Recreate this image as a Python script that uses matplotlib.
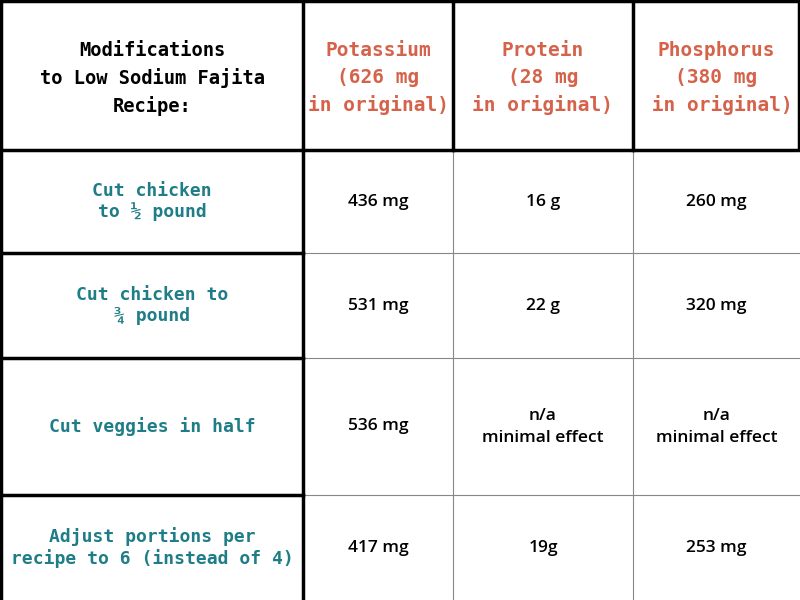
import matplotlib
matplotlib.use("Agg")
import matplotlib.pyplot as plt

corner = "Modifications\nto Low Sodium Fajita\nRecipe:"
headers = ["Potassium\n(626 mg\nin original)", "Protein\n(28 mg\nin original)", "Phosphorus\n(380 mg\n in original)"]
rows = ["Cut chicken\nto ½ pound", "Cut chicken to\n¾ pound", "Cut veggies in half", "Adjust portions per\nrecipe to 6 (instead of 4)"]
potassium = ["436 mg", "531 mg", "536 mg", "417 mg"]
protein = ["16 g", "22 g", "n/a\nminimal effect", "19g"]
phosphorus = ["260 mg", "320 mg", "n/a\nminimal effect", "253 mg"]

xs = [0, 303, 453, 633, 800]
ys = [0, 150, 253, 358, 495, 600]
RED = "#d5624a"
TEAL = "#1e7d86"

fig = plt.figure(figsize=(8, 6), dpi=100)
ax = fig.add_axes([0, 0, 1, 1])
ax.set_xlim(0, 800); ax.set_ylim(600, 0); ax.axis("off")

for x in xs[2:4]:
    ax.plot([x, x], [150, 600], color="#888888", lw=0.8)
for y in ys[2:5]:
    ax.plot([303, 800], [y, y], color="#888888", lw=0.8)
thick = dict(color="black", lw=2.5)
ax.plot([1, 799, 799, 1, 1], [1, 1, 150, 150, 1], **thick)
for x in xs[1:4]:
    ax.plot([x, x], [0, 150], **thick)
ax.plot([303, 303], [150, 600], **thick)
ax.plot([1, 1], [150, 600], **thick)
for y in ys[2:5]:
    ax.plot([0, 303], [y, y], **thick)

mono = dict(family="DejaVu Sans Mono", weight="bold")
ax.text(152, 78, corner, ha="center", va="center", fontsize=13.5, color="black", linespacing=1.5, **mono)
for i, h in enumerate(headers):
    ax.text((xs[i+1]+xs[i+2])/2, 78, h, ha="center", va="center", fontsize=14, color=RED, linespacing=1.5, **mono)
for r, lab in enumerate(rows):
    cy = (ys[r+1]+ys[r+2])/2
    ax.text(152, cy, lab, ha="center", va="center", fontsize=13, color=TEAL, linespacing=1.2, **mono)
    for c, col in enumerate([potassium, protein, phosphorus]):
        ax.text((xs[c+1]+xs[c+2])/2, cy, col[r], ha="center", va="center", fontsize=12.5,
                family="Open Sans", weight="semibold", color="black", linespacing=1.5)

fig.savefig("out.png", dpi=100)
